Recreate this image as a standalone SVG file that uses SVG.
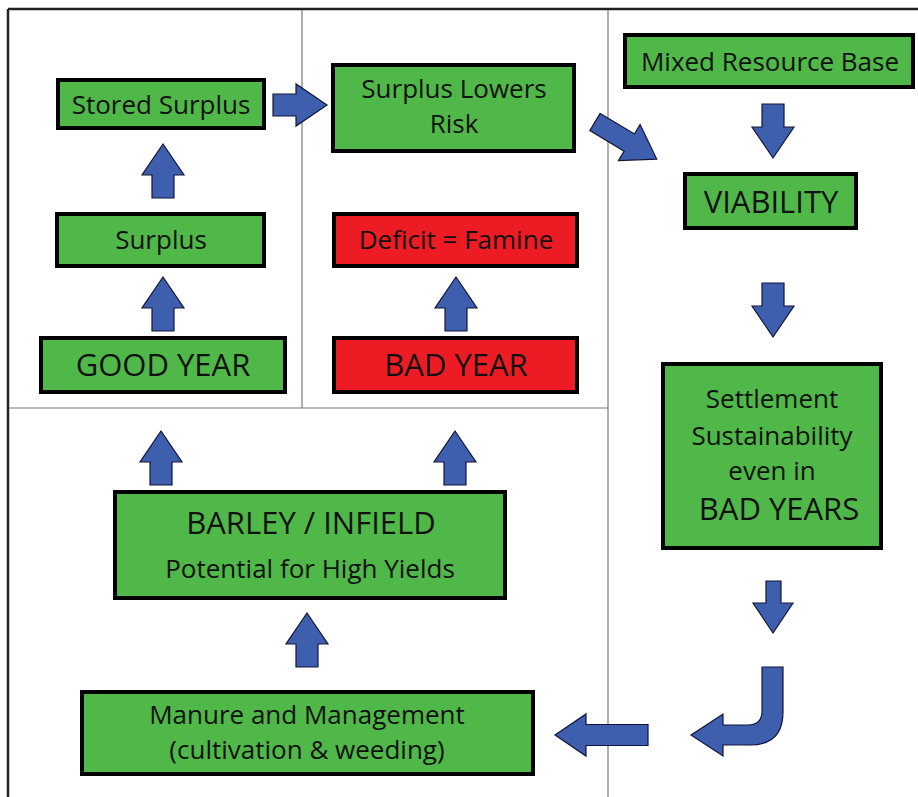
<svg xmlns="http://www.w3.org/2000/svg" xmlns:xlink="http://www.w3.org/1999/xlink" width="918" height="797" viewBox="0 0 918 797">
  <style>
    .g { fill: #4fb848; stroke: #000; stroke-width: 4; }
    .r { fill: #ed1c24; stroke: #000; stroke-width: 4; }
    .t { font-family: "Open Sans", "Noto Sans", "Liberation Sans", sans-serif; font-size: 26px; fill: #111; text-anchor: middle; }
    .big { font-size: 31px; }
    .arr { fill: #3d5fae; stroke: #14143a; stroke-width: 1.2; stroke-linejoin: miter; }
    .frame { stroke: #222; stroke-width: 2.5; fill: none; }
    .div { stroke: #7a7a7a; stroke-width: 1.2; fill: none; }
  </style>
  <defs>
    <path id="up" d="M0 0 L21 31 L11 31 L11 54 L-11 54 L-11 31 L-21 31 Z"/>
  </defs>
  <rect x="0" y="0" width="918" height="797" fill="#fff"/>

  <g id="frame">
    <line class="frame" x1="8" y1="9" x2="918" y2="9"/>
    <line class="frame" x1="8" y1="9" x2="8" y2="797"/>
    <line class="div" x1="302" y1="10" x2="302" y2="408"/>
    <line class="div" x1="608" y1="10" x2="608" y2="797"/>
    <line class="div" x1="9" y1="408" x2="608" y2="408"/>
  </g>

  <g id="connectors">
    <use href="#up" class="arr" transform="translate(327,105) rotate(90)"/>
    <path class="arr" transform="translate(595,122) rotate(31)" d="M0 -10 L40 -10 L40 -21 L72 0 L40 21 L40 10 L0 10 Z"/>
    <use href="#up" class="arr" transform="translate(773,158) rotate(180)"/>
    <use href="#up" class="arr" transform="translate(773,337) rotate(180)"/>
    <path class="arr" d="M773 633 L753 603 L766 603 L766 581 L781 581 L781 603 L793 603 Z"/>
    <path class="arr" d="M762 667 L783 667 L783 712 Q783 745 750 745 L723 745 L723 756 L691 735 L723 714 L723 725 L748 725 Q762 725 762 711 Z"/>
    <path class="arr" d="M555 735 L586 714 L586 724.5 L648 724.5 L648 745.5 L586 745.5 L586 756 Z"/>
    <use href="#up" class="arr" x="307" y="613"/>
    <use href="#up" class="arr" x="161" y="431"/>
    <use href="#up" class="arr" x="455" y="431"/>
    <use href="#up" class="arr" x="163" y="277"/>
    <use href="#up" class="arr" x="456" y="277"/>
    <use href="#up" class="arr" x="163" y="144"/>
  </g>

  <g id="stored-surplus">
    <rect class="g" x="58" y="80" width="206" height="48"/>
    <text class="t" x="161" y="114">Stored Surplus</text>
  </g>
  <g id="surplus-lowers-risk">
    <rect class="g" x="333" y="65" width="241" height="86"/>
    <text class="t" x="454" y="98">Surplus Lowers</text>
    <text class="t" x="454" y="133">Risk</text>
  </g>
  <g id="mixed-resource-base">
    <rect class="g" x="625" y="35" width="288" height="52"/>
    <text class="t" x="770" y="71">Mixed Resource Base</text>
  </g>
  <g id="viability">
    <rect class="g" x="685" y="174" width="171" height="54"/>
    <text class="t big" x="771" y="213">VIABILITY</text>
  </g>
  <g id="surplus">
    <rect class="g" x="57" y="214" width="207" height="52"/>
    <text class="t" x="161" y="249">Surplus</text>
  </g>
  <g id="deficit">
    <rect class="r" x="334" y="214" width="243" height="52"/>
    <text class="t" x="456" y="249">Deficit = Famine</text>
  </g>
  <g id="good-year">
    <rect class="g" x="41" y="338" width="244" height="54"/>
    <text class="t big" x="163" y="376">GOOD YEAR</text>
  </g>
  <g id="bad-year">
    <rect class="r" x="334" y="338" width="243" height="54"/>
    <text class="t big" x="456" y="376">BAD YEAR</text>
  </g>
  <g id="settlement">
    <rect class="g" x="663" y="364" width="218" height="184"/>
    <text class="t" x="772" y="408">Settlement</text>
    <text class="t" x="772" y="445">Sustainability</text>
    <text class="t" x="772" y="480">even in</text>
    <text class="t big" x="779" y="520">BAD YEARS</text>
  </g>
  <g id="barley">
    <rect class="g" x="115" y="492" width="390" height="106"/>
    <text class="t big" x="311" y="534">BARLEY / INFIELD</text>
    <text class="t" x="310" y="578">Potential for High Yields</text>
  </g>
  <g id="manure">
    <rect class="g" x="82" y="692" width="451" height="82"/>
    <text class="t" x="307" y="724">Manure and Management</text>
    <text class="t" x="307" y="759">(cultivation &amp; weeding)</text>
  </g>
</svg>
